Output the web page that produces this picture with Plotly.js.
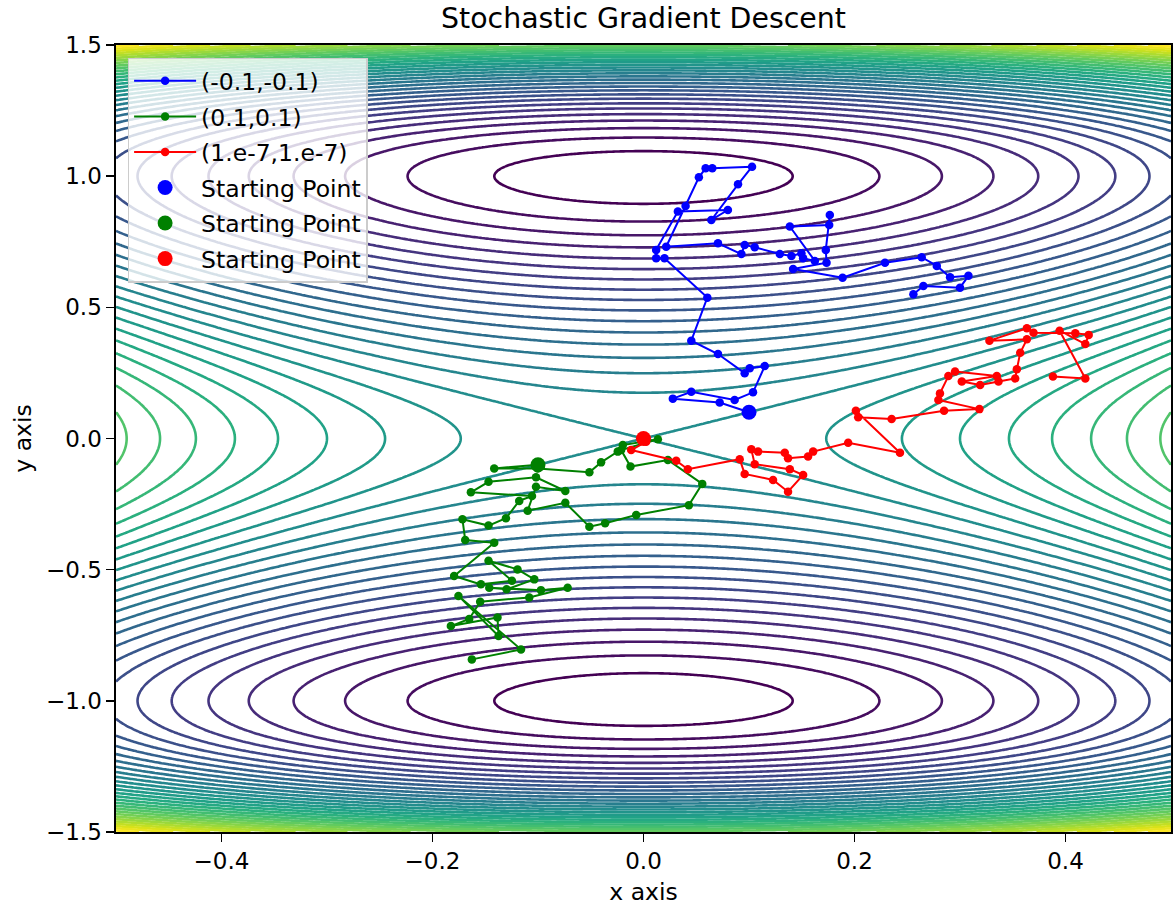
<!DOCTYPE html>
<html>
<head>
<meta charset="utf-8">
<script src="https://cdn.plot.ly/plotly-3.0.1.min.js"></script>
<style>html,body{margin:0;padding:0;background:#fff;}#chart{width:1173px;height:906px;}</style>
</head>
<body>
<div id="chart"></div>
<script>
// ---- surface parameters: f(x,y) = A*x^2 + (y^2 - 1)^2 ----
const A_COEF = 2;
const X_RANGE = [-0.5, 0.5];
const Y_RANGE = [-1.5, 1.5];
const LEVEL_START = 0.04, LEVEL_END = 2.02, LEVEL_SIZE = 0.06;

// ---- SGD paths ----
const blueX = [0.100,0.0722,0.0278,0.0453,0.0864,0.1038,0.1149,0.1007,0.0959,0.0706,0.0453,0.0605,0.0199,0.0120,0.0120,0.0326,0.0800,0.0643,0.0896,0.1029,0.0652,0.0589,0.0525,0.0399,0.0215,0.0706,0.0928,0.0959,0.1054,0.1292,0.1402,0.1497,0.1513,0.1624,0.1387,0.1760,0.1766,0.1728,0.1735,0.1418,0.1887,0.2289,0.2637,0.2780,0.2906,0.3080,0.3000,0.2653,0.2558];
const blueY = [0.100,0.137,0.152,0.178,0.147,0.176,0.276,0.268,0.249,0.322,0.373,0.537,0.687,0.687,0.719,0.865,0.871,0.833,0.969,1.036,1.030,1.030,0.996,0.886,0.731,0.744,0.703,0.738,0.729,0.703,0.696,0.706,0.687,0.677,0.808,0.814,0.852,0.719,0.670,0.646,0.613,0.670,0.691,0.658,0.615,0.620,0.575,0.581,0.550];

const greenX = [-0.100,-0.1415,-0.1003,-0.0513,-0.0402,-0.0244,-0.0196,0.0136,-0.0212,-0.0123,0.0231,0.0557,0.0430,-0.0069,-0.0364,-0.0513,-0.0741,-0.1098,-0.1019,-0.0741,-0.1019,-0.1469,-0.1636,-0.1057,-0.1178,-0.1304,-0.1469,-0.1716,-0.1690,-0.1415,-0.1795,-0.1541,-0.1247,-0.1469,-0.1194,-0.1035,-0.1298,-0.1462,-0.0972,-0.0719,-0.1083,-0.1548,-0.1652,-0.1826,-0.1384,-0.1374,-0.1754,-0.1161,-0.1627];
const greenY = [-0.100,-0.114,-0.114,-0.129,-0.091,-0.050,-0.025,-0.003,-0.044,-0.107,-0.082,-0.173,-0.254,-0.292,-0.323,-0.336,-0.245,-0.275,-0.184,-0.200,-0.148,-0.165,-0.205,-0.219,-0.238,-0.304,-0.332,-0.308,-0.387,-0.397,-0.524,-0.556,-0.542,-0.466,-0.499,-0.537,-0.575,-0.569,-0.578,-0.569,-0.606,-0.622,-0.688,-0.715,-0.682,-0.753,-0.600,-0.804,-0.842];

const redX = [0.000,0.0025,-0.0117,0.0310,0.0420,0.0912,0.0959,0.1228,0.1370,0.1513,0.1387,0.1054,0.1022,0.1086,0.1339,0.1370,0.1560,0.1608,0.1940,0.2431,0.2013,0.2035,0.2352,0.2849,0.3184,0.2795,0.2810,0.2890,0.2953,0.3349,0.3017,0.3191,0.3365,0.3523,0.3539,0.3571,0.3634,0.3279,0.3634,0.3697,0.4093,0.4220,0.4188,0.3944,0.4188,0.3881];
const redY = [0.000,-0.012,-0.044,-0.085,-0.117,-0.079,-0.135,-0.158,-0.203,-0.139,-0.117,-0.098,-0.041,-0.050,-0.054,-0.075,-0.069,-0.050,-0.016,-0.054,0.106,0.081,0.074,0.106,0.112,0.147,0.172,0.238,0.255,0.238,0.217,0.204,0.217,0.229,0.264,0.327,0.378,0.373,0.420,0.403,0.401,0.395,0.360,0.411,0.229,0.236];

const startX = [0.1, -0.1, 1e-7];
const startY = [0.1, -0.1, 1e-7];

const pathNames = ['(-0.1,-0.1)', '(0.1,0.1)', '(1.e-7,1.e-7)'];
const pathColors = ['#0000ff', '#008000', '#ff0000'];
const startName = 'Starting Point';

const xTickVals = [-0.4, -0.2, 0.0, 0.2, 0.4];
const xTickText = ['\u22120.4', '\u22120.2', '0.0', '0.2', '0.4'];
const yTickVals = [-1.5, -1.0, -0.5, 0.0, 0.5, 1.0, 1.5];
const yTickText = ['\u22121.5', '\u22121.0', '\u22120.5', '0.0', '0.5', '1.0', '1.5'];

// ---- build surface grid ----
const NX = 301, NY = 401;
const gx = [], gy = [], gz = [];
for (let i = 0; i < NX; i++) gx.push(X_RANGE[0] + (X_RANGE[1] - X_RANGE[0]) * i / (NX - 1));
for (let j = 0; j < NY; j++) gy.push(Y_RANGE[0] + (Y_RANGE[1] - Y_RANGE[0]) * j / (NY - 1));
for (let j = 0; j < NY; j++) {
  const row = [];
  const y = gy[j];
  for (let i = 0; i < NX; i++) {
    const x = gx[i];
    row.push(A_COEF * x * x + (y * y - 1) * (y * y - 1));
  }
  gz.push(row);
}

const FONT = 'DejaVu Sans, Liberation Sans, sans-serif';
const traces = [{
  type: 'contour', x: gx, y: gy, z: gz,
  colorscale: 'Viridis', showscale: false, showlegend: false,
  autocontour: false,
  contours: {start: LEVEL_START, end: LEVEL_END, size: LEVEL_SIZE, coloring: 'lines'},
  line: {width: 2.6, smoothing: 1},
  hoverinfo: 'skip'
}];
const paths = [[blueX, blueY], [greenX, greenY], [redX, redY]];
paths.forEach((p, k) => {
  traces.push({
    type: 'scatter', mode: 'lines+markers', x: p[0], y: p[1], name: pathNames[k],
    line: {color: pathColors[k], width: 2}, marker: {color: pathColors[k], size: 8.5},
    legendgroup: 'g' + k
  });
});
startX.forEach((sx, k) => {
  traces.push({
    type: 'scatter', mode: 'markers', x: [sx], y: [startY[k]], name: startName,
    marker: {color: pathColors[k], size: 15}, legendgroup: 's' + k
  });
});

const axisCommon = {
  showgrid: false, zeroline: false, showline: true, mirror: true,
  linecolor: '#000', linewidth: 1.6, ticks: 'outside', ticklen: 8, tickwidth: 1.6, tickcolor: '#000',
  tickfont: {family: FONT, size: 23, color: '#000'}
};
const layout = {
  width: 1173, height: 906,
  margin: {l: 116, r: 2, t: 45, b: 74},
  paper_bgcolor: '#fff', plot_bgcolor: '#fff',
  font: {family: FONT, color: '#000'},
  title: {text: 'Stochastic Gradient Descent', font: {family: FONT, size: 28.4, color: '#000'},
          x: 0.5, xref: 'paper', y: 0.98, yref: 'container', yanchor: 'middle'},
  xaxis: Object.assign({}, axisCommon, {range: X_RANGE, tickvals: xTickVals, ticktext: xTickText,
          title: {text: 'x axis', font: {family: FONT, size: 23.5, color: '#000'}, standoff: 11}}),
  yaxis: Object.assign({}, axisCommon, {range: Y_RANGE, tickvals: yTickVals, ticktext: yTickText,
          title: {text: 'y axis', font: {family: FONT, size: 23.5, color: '#000'}, standoff: 8}}),
  legend: {x: 0.011, y: 0.984, xanchor: 'left', yanchor: 'top',
           bgcolor: 'rgba(255,255,255,0.8)', bordercolor: '#cccccc', borderwidth: 1.5,
           font: {family: FONT, size: 23.5, color: '#000'}, itemwidth: 62,
           traceorder: 'grouped', tracegroupgap: 2},
  showlegend: true
};
Plotly.newPlot('chart', traces, layout, {staticPlot: true, displayModeBar: false});
</script>
</body>
</html>
